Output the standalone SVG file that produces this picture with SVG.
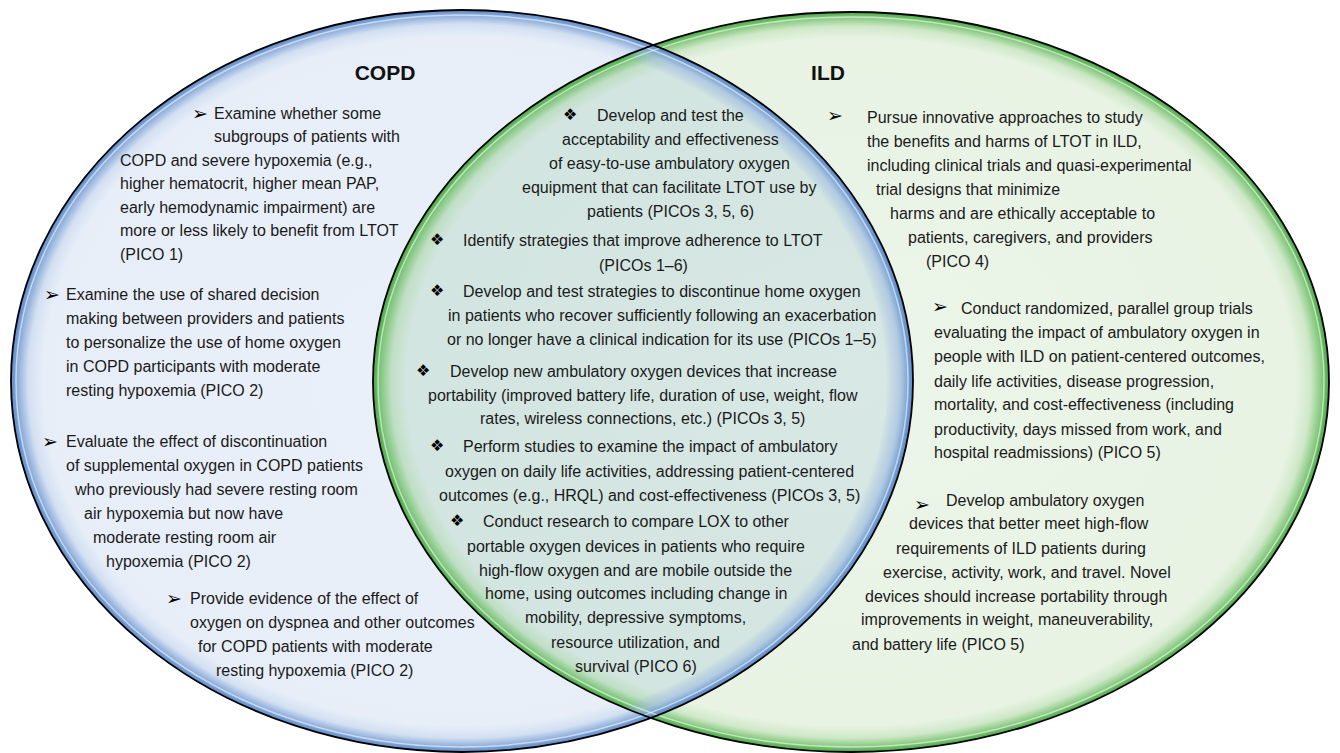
<svg xmlns="http://www.w3.org/2000/svg" width="1340" height="753" viewBox="0 0 1340 753">
<style>
.t{font-family:"Liberation Sans",Arial,Helvetica,sans-serif;font-size:16px;fill:#1a1a1a}
.h{font-family:"Liberation Sans",Arial,Helvetica,sans-serif;font-size:21px;font-weight:bold;fill:#111;text-anchor:middle}
.ar{font-family:"DejaVu Sans",sans-serif;font-size:19px;fill:#000}
.dm{font-family:"DejaVu Sans",sans-serif;font-size:16px;fill:#000}
.edge{fill:none;stroke:#000;stroke-width:1.8}
.hl{fill:none;stroke:#fff;stroke-width:1.5;opacity:0.55}
</style>
<defs>
<radialGradient id="gBlue" cx="0.5" cy="0.5" r="0.5">
<stop offset="0" stop-color="#ebf0f9"/>
<stop offset="0.93" stop-color="#e7eef8"/>
<stop offset="0.962" stop-color="#d3e0f2"/>
<stop offset="0.985" stop-color="#8eaedb"/>
<stop offset="1" stop-color="#5a89c8"/>
</radialGradient>
<radialGradient id="gGreen" cx="0.5" cy="0.5" r="0.5">
<stop offset="0" stop-color="#ecf5e9"/>
<stop offset="0.93" stop-color="#e8f3e4"/>
<stop offset="0.962" stop-color="#cfe8c8"/>
<stop offset="0.985" stop-color="#86c97f"/>
<stop offset="1" stop-color="#47a844"/>
</radialGradient>
<radialGradient id="gTeal" cx="0.5" cy="0.5" r="0.5">
<stop offset="0" stop-color="#d8e8e5"/>
<stop offset="0.93" stop-color="#d3e5e0"/>
<stop offset="0.962" stop-color="#bfdfc4"/>
<stop offset="0.985" stop-color="#80c67d"/>
<stop offset="1" stop-color="#47a844"/>
</radialGradient>
<radialGradient id="gBlueEdge" cx="0.5" cy="0.5" r="0.5">
<stop offset="0" stop-color="#5a89c8" stop-opacity="0"/>
<stop offset="0.94" stop-color="#8eaedb" stop-opacity="0"/>
<stop offset="0.97" stop-color="#9ebbe0" stop-opacity="0.6"/>
<stop offset="0.99" stop-color="#6f9bd2" stop-opacity="0.95"/>
<stop offset="1" stop-color="#5a89c8"/>
</radialGradient>
<clipPath id="clipL"><ellipse cx="462" cy="381" rx="451" ry="371"/></clipPath>
<clipPath id="clipR"><ellipse cx="851" cy="382" rx="478" ry="370"/></clipPath>
</defs>

<rect width="1340" height="753" fill="#fff"/>

<g id="copd-circle">
<ellipse cx="462" cy="381" rx="451" ry="371" fill="url(#gBlue)"/>
</g>
<g id="ild-circle">
<ellipse cx="851" cy="382" rx="478" ry="370" fill="url(#gGreen)"/>
</g>
<g id="overlap">
<ellipse cx="851" cy="382" rx="478" ry="370" fill="url(#gTeal)" clip-path="url(#clipL)"/>
<ellipse cx="462" cy="381" rx="451" ry="371" fill="url(#gBlueEdge)" clip-path="url(#clipR)"/>
</g>
<g id="outlines">
<ellipse class="hl" cx="462" cy="381" rx="446" ry="366"/>
<ellipse class="hl" cx="851" cy="382" rx="473" ry="365"/>
<ellipse class="edge" cx="462" cy="381" rx="451" ry="371"/>
<ellipse class="edge" cx="851" cy="382" rx="478" ry="370"/>
</g>

<g id="title-copd"><text class="h" x="385" y="80">COPD</text></g>
<g id="title-ild"><text class="h" x="828" y="80">ILD</text></g>

<g id="copd-1">
<text class="ar" x="192" y="120">➢</text>
<text class="t" x="214" y="119">Examine whether some</text>
<text class="t" x="214" y="142">subgroups of patients with</text>
<text class="t" x="120" y="166">COPD and severe hypoxemia (e.g.,</text>
<text class="t" x="120" y="189">higher hematocrit, higher mean PAP,</text>
<text class="t" x="120" y="213">early hemodynamic impairment) are</text>
<text class="t" x="120" y="236">more or less likely to benefit from LTOT</text>
<text class="t" x="120" y="260">(PICO 1)</text>
</g>
<g id="copd-2">
<text class="ar" x="44" y="301">➢</text>
<text class="t" x="66" y="300">Examine the use of shared decision</text>
<text class="t" x="66" y="324">making between providers and patients</text>
<text class="t" x="66" y="348">to personalize the use of home oxygen</text>
<text class="t" x="66" y="372">in COPD participants with moderate</text>
<text class="t" x="66" y="396">resting hypoxemia (PICO 2)</text>
</g>
<g id="copd-3">
<text class="ar" x="42" y="448">➢</text>
<text class="t" x="66" y="447">Evaluate the effect of discontinuation</text>
<text class="t" x="66" y="471">of supplemental oxygen in COPD patients</text>
<text class="t" x="75" y="495">who previously had severe resting room</text>
<text class="t" x="84" y="519">air hypoxemia but now have</text>
<text class="t" x="93" y="543">moderate resting room air</text>
<text class="t" x="106" y="567">hypoxemia (PICO 2)</text>
</g>
<g id="copd-4">
<text class="ar" x="166" y="605">➢</text>
<text class="t" x="190" y="604">Provide evidence of the effect of</text>
<text class="t" x="190" y="628">oxygen on dyspnea and other outcomes</text>
<text class="t" x="198" y="652">for COPD patients with moderate</text>
<text class="t" x="216" y="676">resting hypoxemia (PICO 2)</text>
</g>

<g id="both-1">
<text class="dm" x="563" y="120">❖</text>
<text class="t" x="597" y="121">Develop and test the</text>
<text class="t" x="562" y="145">acceptability and effectiveness</text>
<text class="t" x="549" y="169">of easy-to-use ambulatory oxygen</text>
<text class="t" x="522" y="193">equipment that can facilitate LTOT use by</text>
<text class="t" x="587" y="217">patients (PICOs 3, 5, 6)</text>
</g>
<g id="both-2">
<text class="dm" x="430" y="245">❖</text>
<text class="t" x="463" y="246">Identify strategies that improve adherence to LTOT</text>
<text class="t" x="599" y="271">(PICOs 1–6)</text>
</g>
<g id="both-3">
<text class="dm" x="430" y="296">❖</text>
<text class="t" x="463" y="297">Develop and test strategies to discontinue home oxygen</text>
<text class="t" x="448" y="321">in patients who recover sufficiently following an exacerbation</text>
<text class="t" x="447" y="345">or no longer have a clinical indication for its use (PICOs 1–5)</text>
</g>
<g id="both-4">
<text class="dm" x="416" y="376">❖</text>
<text class="t" x="450" y="377">Develop new ambulatory oxygen devices that increase</text>
<text class="t" x="428" y="401">portability (improved battery life, duration of use, weight, flow</text>
<text class="t" x="480" y="424">rates, wireless connections, etc.) (PICOs 3, 5)</text>
</g>
<g id="both-5">
<text class="dm" x="430" y="451">❖</text>
<text class="t" x="463" y="452">Perform studies to examine the impact of ambulatory</text>
<text class="t" x="445" y="477">oxygen on daily life activities, addressing patient-centered</text>
<text class="t" x="439" y="501">outcomes (e.g., HRQL) and cost-effectiveness (PICOs 3, 5)</text>
</g>
<g id="both-6">
<text class="dm" x="450" y="526">❖</text>
<text class="t" x="483" y="527">Conduct research to compare LOX to other</text>
<text class="t" x="467" y="552">portable oxygen devices in patients who require</text>
<text class="t" x="479" y="576">high-flow oxygen and are mobile outside the</text>
<text class="t" x="485" y="599">home, using outcomes including change in</text>
<text class="t" x="525" y="623">mobility, depressive symptoms,</text>
<text class="t" x="551" y="648">resource utilization, and</text>
<text class="t" x="575" y="672">survival (PICO 6)</text>
</g>

<g id="ild-1">
<text class="ar" x="827" y="122">➢</text>
<text class="t" x="867" y="123">Pursue innovative approaches to study</text>
<text class="t" x="867" y="147">the benefits and harms of LTOT in ILD,</text>
<text class="t" x="867" y="171">including clinical trials and quasi-experimental</text>
<text class="t" x="876" y="195">trial designs that minimize</text>
<text class="t" x="890" y="219">harms and are ethically acceptable to</text>
<text class="t" x="908" y="243">patients, caregivers, and providers</text>
<text class="t" x="926" y="267">(PICO 4)</text>
</g>
<g id="ild-2">
<text class="ar" x="932" y="313">➢</text>
<text class="t" x="961" y="314">Conduct randomized, parallel group trials</text>
<text class="t" x="934" y="338">evaluating the impact of ambulatory oxygen in</text>
<text class="t" x="934" y="362">people with ILD on patient-centered outcomes,</text>
<text class="t" x="934" y="387">daily life activities, disease progression,</text>
<text class="t" x="934" y="410">mortality, and cost-effectiveness (including</text>
<text class="t" x="934" y="435">productivity, days missed from work, and</text>
<text class="t" x="934" y="458">hospital readmissions) (PICO 5)</text>
</g>
<g id="ild-3">
<text class="ar" x="914" y="511">➢</text>
<text class="t" x="946" y="506">Develop ambulatory oxygen</text>
<text class="t" x="909" y="529">devices that better meet high-flow</text>
<text class="t" x="896" y="554">requirements of ILD patients during</text>
<text class="t" x="883" y="578">exercise, activity, work, and travel. Novel</text>
<text class="t" x="865" y="602">devices should increase portability through</text>
<text class="t" x="861" y="625">improvements in weight, maneuverability,</text>
<text class="t" x="852" y="650">and battery life (PICO 5)</text>
</g>
</svg>
